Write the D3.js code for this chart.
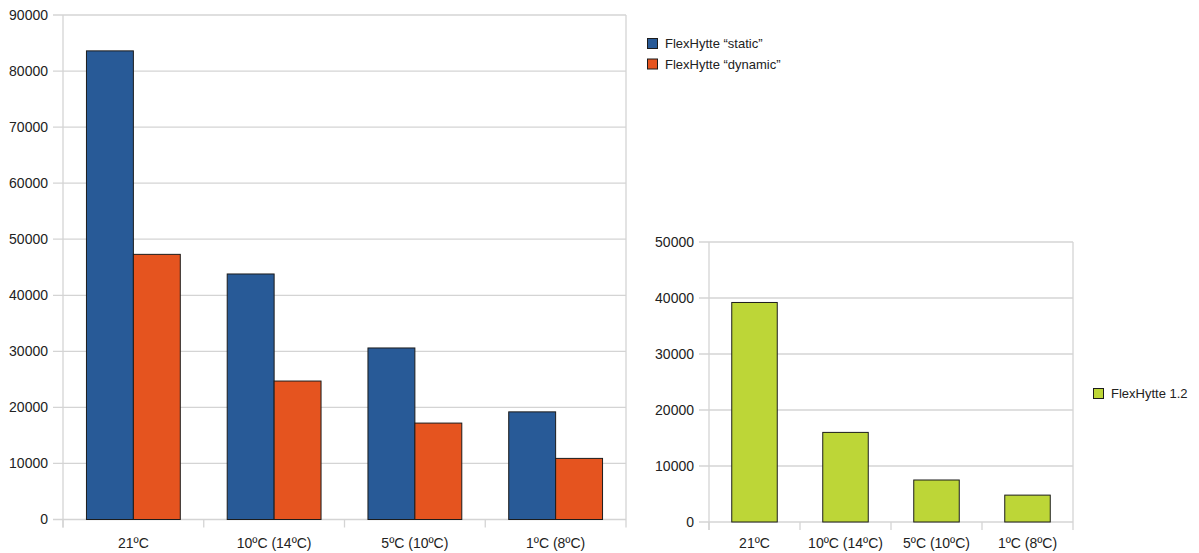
<!DOCTYPE html>
<html>
<head>
<meta charset="utf-8">
<script src="https://cdn.jsdelivr.net/npm/d3@7"></script>
<style>
  html, body { margin: 0; padding: 0; background: #fff; }
  svg { display: block; font-family: "Liberation Sans", Arial, sans-serif; }
</style>
</head>
<body>
<svg id="chart" width="1199" height="553"></svg>
<script>
// Heating demand per indoor temperature setting
const categories = ["21ºC", "10ºC (14ºC)", "5ºC (10ºC)", "1ºC (8ºC)"];
const seriesNames = ["FlexHytte “static”", "FlexHytte “dynamic”"];
const staticValues = [83600, 43800, 30600, 19200];
const dynamicValues = [47300, 24700, 17200, 10900];
const flexHytte12Name = "FlexHytte 1.2";
const flexHytte12Values = [39200, 16000, 7500, 4800];
const leftTicks = [0, 10000, 20000, 30000, 40000, 50000, 60000, 70000, 80000, 90000];
const rightTicks = [0, 10000, 20000, 30000, 40000, 50000];

const colors = ["#285a97", "#e5541f"];
const green = "#bdd637";
const gridColor = "#d4d4d4";
const textColor = "#222";

const svg = d3.select("#chart");

function drawPanel(opts) {
  const g = svg.append("g");
  const { x0, y, ticks, left, right, top, bottom } = opts;

  // horizontal gridlines with short tick stubs on the left
  g.selectAll("line.grid").data(ticks).join("line")
    .attr("x1", left - 10).attr("x2", right)
    .attr("y1", d => y(d)).attr("y2", d => y(d))
    .attr("stroke", gridColor).attr("stroke-width", 1.3);

  // left and right frame lines
  [left, right].forEach(xx => {
    g.append("line")
      .attr("x1", xx).attr("x2", xx)
      .attr("y1", top).attr("y2", bottom + 8)
      .attr("stroke", gridColor).attr("stroke-width", 1.3);
  });

  // category boundary ticks below the axis
  const step = x0.step();
  const bounds = categories.map(c => x0(c) - (x0.bandwidth() ? (step - x0.bandwidth()) / 2 : 0));
  g.selectAll("line.ctick").data(bounds).join("line")
    .attr("x1", d => d).attr("x2", d => d)
    .attr("y1", bottom).attr("y2", bottom + 8)
    .attr("stroke", gridColor).attr("stroke-width", 1.3);

  // y tick labels
  g.selectAll("text.ylab").data(ticks).join("text")
    .attr("x", left - 15).attr("y", d => y(d))
    .attr("dy", "0.35em")
    .attr("text-anchor", "end")
    .attr("font-size", 14).attr("fill", textColor)
    .text(d => d);

  // category labels
  g.selectAll("text.xlab").data(categories).join("text")
    .attr("x", d => x0(d) + x0.bandwidth() / 2)
    .attr("y", 548)
    .attr("text-anchor", "middle")
    .attr("font-size", 14).attr("fill", textColor)
    .text(d => d);
  return g;
}

// ---- Left chart: static vs dynamic ----
const L = { left: 63, right: 626, top: 15, bottom: 519.5 };
const yL = d3.scaleLinear().domain([0, 90000]).range([L.bottom, L.top]);
const xL = d3.scaleBand().domain(categories).range([L.left, L.right])
  .paddingInner(1 / 3).paddingOuter(1 / 6);
const xL1 = d3.scaleBand().domain([0, 1]).range([0, xL.bandwidth()]);

const gL = drawPanel({ x0: xL, y: yL, ticks: leftTicks, ...L });
const seriesData = [staticValues, dynamicValues];
seriesData.forEach((vals, si) => {
  gL.selectAll("rect.s" + si).data(vals).join("rect")
    .attr("x", (d, i) => xL(categories[i]) + xL1(si))
    .attr("width", xL1.bandwidth())
    .attr("y", d => yL(d))
    .attr("height", d => yL(0) - yL(d))
    .attr("fill", colors[si])
    .attr("stroke", "#1c1c1c").attr("stroke-width", 1);
});

// legend for left chart
seriesNames.forEach((name, i) => {
  const ly = 38 + i * 20.5;
  svg.append("rect").attr("x", 647.5).attr("y", ly + 0.5).attr("width", 10).attr("height", 10)
    .attr("fill", colors[i]).attr("stroke", "#1c1c1c").attr("stroke-width", 1);
  svg.append("text").attr("x", 665).attr("y", ly + 10)
    .attr("font-size", 13).attr("fill", textColor).text(name);
});

// ---- Right chart: FlexHytte 1.2 ----
const R = { left: 709, right: 1073, top: 242, bottom: 522 };
const yR = d3.scaleLinear().domain([0, 50000]).range([R.bottom, R.top]);
const xR = d3.scaleBand().domain(categories).range([R.left, R.right])
  .paddingInner(0.5).paddingOuter(0.25);

const gR = drawPanel({ x0: xR, y: yR, ticks: rightTicks, ...R });
gR.selectAll("rect.g").data(flexHytte12Values).join("rect")
  .attr("x", (d, i) => xR(categories[i]))
  .attr("width", xR.bandwidth())
  .attr("y", d => yR(d))
  .attr("height", d => yR(0) - yR(d))
  .attr("fill", green)
  .attr("stroke", "#1c1c1c").attr("stroke-width", 1);

svg.append("rect").attr("x", 1093.5).attr("y", 388.5).attr("width", 10).attr("height", 10)
  .attr("fill", green).attr("stroke", "#1c1c1c").attr("stroke-width", 1);
svg.append("text").attr("x", 1111).attr("y", 398)
  .attr("font-size", 13).attr("fill", textColor).text(flexHytte12Name);
</script>
</body>
</html>
